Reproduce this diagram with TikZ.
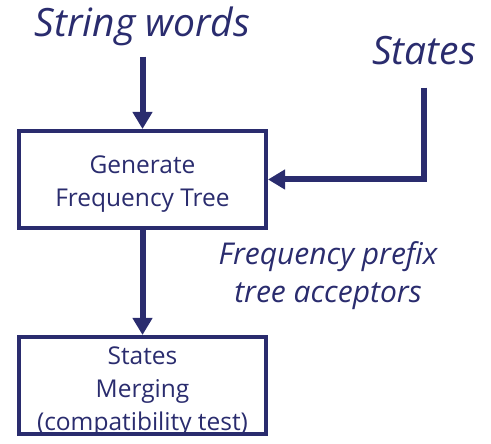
\documentclass[tikz,border=0pt]{standalone}
\usepackage{fontspec}
\setmainfont{Open Sans}
\usetikzlibrary{arrows.meta, positioning}
\definecolor{navy}{RGB}{42,44,110}

\begin{document}
\begin{tikzpicture}[
  x=1pt, y=1pt,
  >={Triangle[width=19pt, length=17pt]},
  % Node styles
  stepbox/.style={rectangle, draw=navy, line width=4pt, minimum width=247pt, minimum height=97pt, inner sep=0pt},
  boxtxt/.style={inner sep=0pt, align=center, text=navy, font=\fontsize{24.5}{33}\selectfont},
  inputtxt/.style={text=navy, inner sep=0pt, font=\fontsize{39}{42}\selectfont\itshape},
  edgetxt/.style={text=navy, align=center, font=\fontsize{30}{38}\selectfont\itshape},
  % Edge styles
  flow/.style={->, draw=navy, line width=6pt}
]

% ------------------------------------------------------------
% Canvas
% ------------------------------------------------------------
\useasboundingbox (0,0) rectangle (491,444);

% Process boxes (text sits a bit low in each box)
\node[stepbox] (gen)   at (142.5,264.5) {};
\node[stepbox] (merge) at (142.5,58.5)  {};
\node[boxtxt] (gentxt)   at ([yshift=-5pt]gen.center)   {Generate\\Frequency Tree};
\node[boxtxt] (mergetxt) at ([yshift=-6pt]merge.center) {States\\Merging\\(compatibility test)};

% Inputs
\node[inputtxt, anchor=base] (words)  at (142.5,407) {String words};
\node[inputtxt, anchor=base] (states) at (424,379)   {States};

% Label on the middle arrow
\node[edgetxt] (fpta) at (328,168) {Frequency prefix\\tree acceptors};

% ------------------------------------------------------------
% Connectors
% ------------------------------------------------------------
\draw[flow, shorten <=10pt] (words.south) -- (gen.north);
\draw[flow, shorten <=22pt] (states.south) |- (gen.east);
\draw[flow] (gen.south) -- (merge.north);

\end{tikzpicture}
\end{document}
